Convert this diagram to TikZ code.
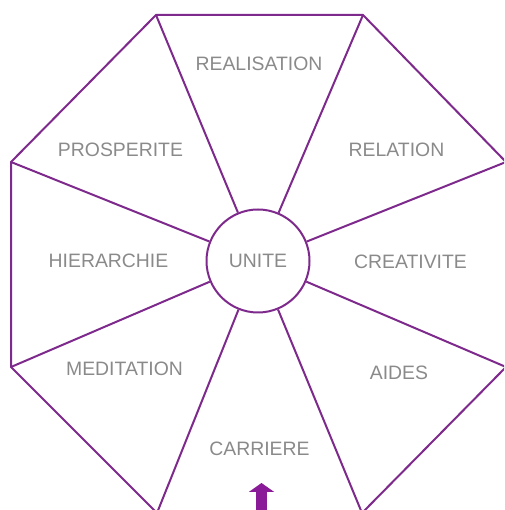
\documentclass[tikz,border=0pt]{standalone}
\usepackage{fontspec}
\setmainfont{Liberation Sans}
\usetikzlibrary{arrows.meta}
\definecolor{wheelline}{HTML}{7E2A8C}
\definecolor{wheelarrow}{HTML}{8B1A98}
\definecolor{wheeltext}{HTML}{8A8A8A}

\begin{document}
\begin{tikzpicture}[
        x=1pt, y=1pt,
        rim/.style={draw=wheelline, line width=2pt, line join=miter},
        spoke/.style={wheelline, line width=2pt},
        sector/.style={text=wheeltext, font=\fontsize{19.4}{23}\selectfont, inner sep=0pt},
        hub/.style={circle, draw=wheelline, line width=2pt, minimum size=103pt, inner sep=0pt, fill=white},
        entry/.style={-{Triangle[width=25pt, length=9pt]}, line width=11pt, wheelarrow}
    ]
        \path[use as bounding box, clip] (0,0) rectangle (504,510);

        % corners of the octagon
        \coordinate (topleft) at (156,495);
        \coordinate (topright) at (363,495);
        \coordinate (righttop) at (506,348);
        \coordinate (rightbottom) at (506,143);
        \coordinate (bottomright) at (362,-3);
        \coordinate (bottomleft) at (157,-3);
        \coordinate (leftbottom) at (11,143);
        \coordinate (lefttop) at (11,348);

        \draw[rim] (topleft) -- (topright) -- (righttop) -- (rightbottom)
            -- (bottomright) -- (bottomleft) -- (leftbottom) -- (lefttop) -- cycle;

        \node[hub, sector] (unite) at (258,249) {UNITE};

        \draw[spoke] (topleft) -- (unite);
        \draw[spoke] (topright) -- (unite);
        \draw[spoke] (righttop) -- (unite);
        \draw[spoke] (rightbottom) -- (unite);
        \draw[spoke] (bottomright) -- (unite);
        \draw[spoke] (bottomleft) -- (unite);
        \draw[spoke] (leftbottom) -- (unite);
        \draw[spoke] (lefttop) -- (unite);

        % labels of the sectors
        \node[sector] (realisation) at (259,446) {REALISATION};
        \node[sector] (relation) at (396.5,360) {RELATION};
        \node[sector] (creativite) at (410.5,248) {CREATIVITE};
        \node[sector] (aides) at (399,137) {AIDES};
        \node[sector] (carriere) at (259.5,61) {CARRIERE};
        \node[sector] (meditation) at (124.5,141) {MEDITATION};
        \node[sector] (hierarchie) at (108.5,249) {HIERARCHIE};
        \node[sector] (prosperite) at (120.5,360) {PROSPERITE};

        % way in
        \coordinate (arrowfoot) at (261.5,-2);
        \coordinate (arrowtip) at (261.5,27);
        \draw[entry] (arrowfoot) -- (arrowtip);
    \end{tikzpicture}
\end{document}
